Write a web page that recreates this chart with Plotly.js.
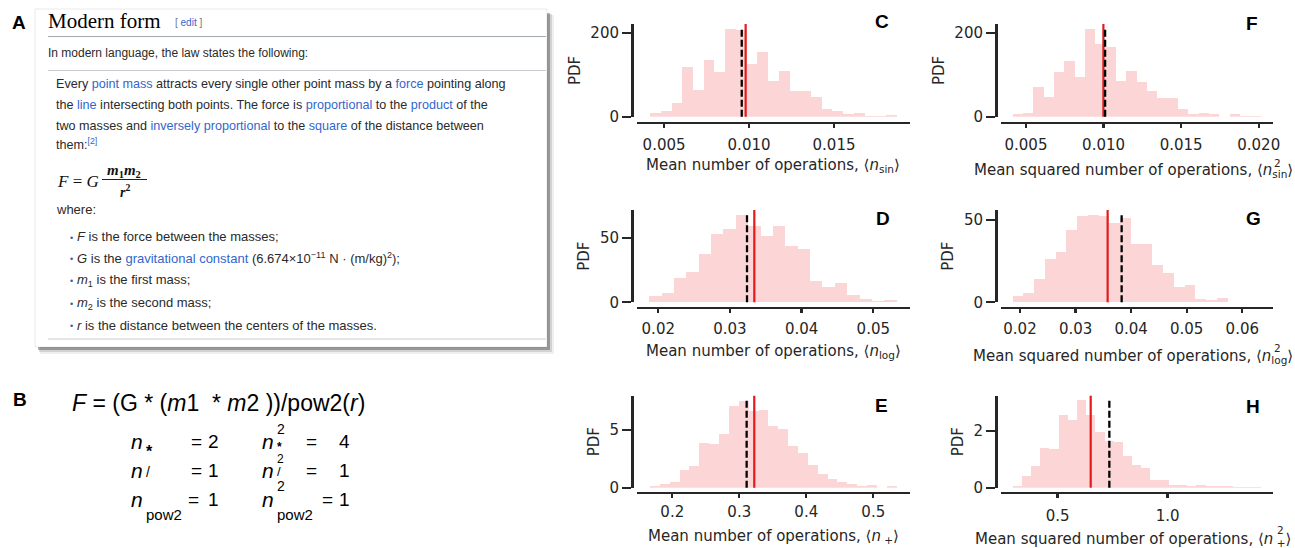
<!DOCTYPE html>
<html>
<head>
<meta charset="utf-8">
<script src="https://cdn.plot.ly/plotly-3.0.1.min.js"></script>
<style>html,body{margin:0;padding:0;background:#fff;}#chart{width:1295px;height:548px;}</style>
</head>
<body>
<div id="chart"></div>
<script>
// ---------- DATA ----------
// Panel C: mean number of sin operations
const cHeights = [9, 14, 33, 118, 64, 134, 107, 208, 206, 125, 155, 84, 108, 61, 61, 47, 19, 13, 7, 9, 2, 2, 4];
const cBinStart = 0.00418, cBinWidth = 0.000631;
const cRed = 0.0098, cBlack = 0.00957;
// Panel D: mean number of log operations
const dHeights = [5.2, 7.3, 19.3, 23.7, 37.8, 52.9, 56.8, 68.2, 59.6, 51.8, 59.9, 43.8, 41.9, 16.4, 12.0, 14.8, 5.7, 2.6, 0.8, 1.8];
const dBinStart = 0.01874, dBinWidth = 0.001726;
const dRed = 0.0334, dBlack = 0.03238;
// Panel E: mean number of + operations
const eHeights = [0.12, 0.3, 0.47, 1.57, 1.86, 3.85, 3.78, 4.71, 7.08, 7.58, 6.65, 6.8, 5.33, 5.14, 3.67, 3.06, 2.0, 1.16, 0.79, 0.5, 0.3, 0.15, 0.21, 0, 0.12];
const eBinStart = 0.1667, eBinWidth = 0.01473;
const eRed = 0.3224, eBlack = 0.311;
// Panel F: mean squared number of sin operations
const fHeights = [6.5, 9, 72, 48, 106, 132, 94, 210, 174, 165, 84, 108, 82, 61, 45, 44, 19, 7, 9, 6.5, 0, 6.5, 2.5, 1];
const fBinStart = 0.00414, fBinWidth = 0.000666;
const fRed = 0.00999, fBlack = 0.0101;
// Panel G: mean squared number of log operations
const gHeights = [4, 5.5, 14.2, 26.5, 30.6, 44.1, 52.4, 53, 52.4, 48, 51, 35.4, 35.4, 22.5, 17.6, 9.5, 10.5, 2, 1.4, 2.6, 0, 0.4, 0.4];
const gBinStart = 0.01869, gBinWidth = 0.001934;
const gRed = 0.03577, gBlack = 0.03829;
// Panel H: mean squared number of + operations
const hHeights = [0.07, 0.42, 0.77, 1.4, 1.36, 2.55, 2.39, 3.08, 2.55, 1.94, 1.65, 1.59, 1.11, 0.8, 0.7, 0.27, 0.27, 0.1, 0.1, 0.05, 0.1, 0.05, 0.05, 0.05, 0.02, 0.02, 0.02];
const hBinStart = 0.2955, hBinWidth = 0.04175;
const hRed = 0.650, hBlack = 0.7348;

// tick labels
const cTicks = ['0.005', '0.010', '0.015'];
const fTicks = ['0.005', '0.010', '0.015', '0.020'];
const dTicks = ['0.02', '0.03', '0.04', '0.05'];
const gTicks = ['0.02', '0.03', '0.04', '0.05', '0.06'];
const eTicks = ['0.2', '0.3', '0.4', '0.5'];
const hTicks = ['0.5', '1.0'];
const cYTicks = [0, 200], dYTicks = [0, 50], eYTicks = [0, 5], hYTicks = [0, 2];

const panelLetters = ['C', 'D', 'E', 'F', 'G', 'H'];

// ---------- LAYOUT HELPERS ----------
const W = 1295, H = 548;
const SANS = 'Liberation Sans, Arial, Helvetica, sans-serif';
const DJV = 'DejaVu Sans, Verdana, sans-serif';
const SERIF = 'Liberation Serif, Times New Roman, serif';
const DARK = '#262626';
const px = x => x / W;
const py = y => 1 - y / H;

const colX = [[636.7, 909.5], [1001, 1273.3]];
const colYLine = [632, 996];
const rowY = [[24, 116.7, 122.7], [210, 302.3, 307.5], [395.7, 487.7, 492.7]];
const titleX = [773, 1133];

const panels = [
  {h: cHeights, s: cBinStart, w: cBinWidth, red: cRed, black: cBlack, col: 0, row: 0, xr: [0.00339, 0.01944], yr: [0, 221], xt: cTicks, yt: cYTicks,
   title: 'Mean number of operations, ⟨<i>n</i><sub>sin</sub>⟩', ty: 165, ls: 4},
  {h: dHeights, s: dBinStart, w: dBinWidth, red: dRed, black: dBlack, col: 0, row: 1, xr: [0.01699, 0.05505], yr: [0, 72], xt: dTicks, yt: dYTicks,
   title: 'Mean number of operations, ⟨<i>n</i><sub>log</sub>⟩', ty: 351.7, ls: 3},
  {h: eHeights, s: eBinStart, w: eBinWidth, red: eRed, black: eBlack, col: 0, row: 2, xr: [0.1469, 0.5541], yr: [0, 8.0], xt: eTicks, yt: eYTicks,
   title: 'Mean number of operations, ⟨<i>n</i><sub> +</sub>⟩', ty: 536.7, ls: 1},
  {h: fHeights, s: fBinStart, w: fBinWidth, red: fRed, black: fBlack, col: 1, row: 0, xr: [0.00339, 0.02094], yr: [0, 221], xt: fTicks, yt: cYTicks,
   title: 'Mean squared number of operations, ⟨<i>n</i><sub>sin</sub>⟩', ty: 170, ls: 4, sq: [1272, 163.3]},
  {h: gHeights, s: gBinStart, w: gBinWidth, red: gRed, black: gBlack, col: 1, row: 1, xr: [0.01658, 0.06558], yr: [0, 56], xt: gTicks, yt: dYTicks,
   title: 'Mean squared number of operations, ⟨<i>n</i><sub>log</sub>⟩', ty: 356.7, ls: 3, sq: [1272, 348.3]},
  {h: hHeights, s: hBinStart, w: hBinWidth, red: hRed, black: hBlack, col: 1, row: 2, xr: [0.2423, 1.480], yr: [0, 3.23], xt: hTicks, yt: hYTicks,
   title: 'Mean squared number of operations, ⟨<i>n</i><sub> +</sub>⟩', ty: 539, ls: 5, sq: [1275, 529.7]}
];
const letterPos = [[881.5, 21.7], [882.5, 218.3], [881.7, 405.8], [1251.7, 23.3], [1253, 218.7], [1252.5, 406]];

const traces = [];
const shapes = [];
const annotations = [];
const layout = {
  width: W, height: H, margin: {l: 0, r: 0, t: 0, b: 0},
  paper_bgcolor: '#ffffff', plot_bgcolor: 'rgba(0,0,0,0)',
  showlegend: false, bargap: 0, font: {family: DJV, color: DARK}
};

panels.forEach((p, i) => {
  const k = i === 0 ? '' : String(i + 1);
  traces.push({
    type: 'bar',
    x: p.h.map((_, j) => p.s + (j + 0.5) * p.w),
    y: p.h,
    width: p.w,
    xaxis: 'x' + k, yaxis: 'y' + k,
    marker: {color: '#fcd6d6', line: {width: 0}},
    hoverinfo: 'skip'
  });
  const tv = p.xt.map(Number);
  layout['xaxis' + k] = {
    domain: [px(colX[p.col][0]), px(colX[p.col][1])],
    range: p.xr, anchor: 'free', position: py(rowY[p.row][2]),
    showline: true, linecolor: DARK, linewidth: 2.6,
    ticks: 'outside', ticklen: 4, tickwidth: 2.4, tickcolor: DARK,
    tickvals: tv, ticktext: p.xt, ticklabelstandoff: p.ls,
    tickfont: {family: DJV, size: 15, color: DARK},
    showgrid: false, zeroline: false, fixedrange: true
  };
  layout['yaxis' + k] = {
    domain: [py(rowY[p.row][1]), py(rowY[p.row][0])],
    range: p.yr, anchor: 'free', position: px(colYLine[p.col]),
    showline: true, linecolor: DARK, linewidth: 2.6,
    ticks: 'outside', ticklen: 9, tickwidth: 2.4, tickcolor: DARK,
    tickvals: p.yt, ticktext: p.yt.map(String),
    tickfont: {family: DJV, size: 15, color: DARK},
    title: {text: 'PDF', font: {family: DJV, size: 15, color: DARK}, standoff: 5},
    showgrid: false, zeroline: false, fixedrange: true
  };
  shapes.push({type: 'line', xref: 'x' + k, yref: 'y' + k + ' domain', x0: p.red, x1: p.red, y0: 0, y1: 1,
    line: {color: '#e41a1c', width: 2.2}, layer: 'above'});
  shapes.push({type: 'line', xref: 'x' + k, yref: 'y' + k + ' domain', x0: p.black, x1: p.black, y0: 0, y1: 0.95,
    line: {color: '#000000', width: 2.3, dash: '7px,3px'}, layer: 'above'});
  // x-axis title
  annotations.push({xref: 'paper', yref: 'paper', x: px(titleX[p.col]), y: py(p.ty),
    text: p.title, showarrow: false, xanchor: 'center', yanchor: 'middle',
    font: {family: DJV, size: 15, color: DARK}});
  if (p.sq) {
    annotations.push({xref: 'paper', yref: 'paper', x: px(p.sq[0]), y: py(p.sq[1]), text: '2', showarrow: false,
      xanchor: 'left', yanchor: 'middle', font: {family: DJV, size: 10.5, color: DARK}});
  }
  annotations.push({xref: 'paper', yref: 'paper', x: px(letterPos[i][0]), y: py(letterPos[i][1]),
    text: '<b>' + panelLetters[i] + '</b>', showarrow: false, xanchor: 'center', yanchor: 'middle',
    font: {family: SANS, size: 19, color: '#000'}});
});

// ---------- PANEL A: text of the reproduced web page ----------
function T(x, y, text, size, opts) {
  const o = opts || {};
  annotations.push({xref: 'paper', yref: 'paper', x: px(x), y: py(y), text: text, showarrow: false,
    xanchor: o.xanchor || 'left', yanchor: 'middle',
    font: {family: o.family || SANS, size: size, color: o.color || '#2a2a2a'}});
}
function R(x0, y0, x1, y1, fill, line) {
  shapes.push({type: 'rect', xref: 'paper', yref: 'paper', x0: px(x0), x1: px(x1), y0: py(y1), y1: py(y0),
    fillcolor: fill, line: line || {width: 0}, layer: 'below'});
}
function L(x0, y0, x1, y1, color, width) {
  shapes.push({type: 'line', xref: 'paper', yref: 'paper', x0: px(x0), x1: px(x1), y0: py(y0), y1: py(y1),
    line: {color: color, width: width}, layer: 'below'});
}
const blue = s => '<span style="color:#3366cc">' + s + '</span>';
const grey = s => '<span style="color:#72777d">' + s + '</span>';

// screenshot frame and shadow
R(40, 15, 554, 354, 'rgba(0,0,0,0.06)');
R(39, 14, 552, 352, 'rgba(0,0,0,0.12)');
R(38, 13, 550, 350, 'rgba(0,0,0,0.28)');
R(35, 9, 547, 347, '#ffffff', {color: 'rgba(0,0,0,0.08)', width: 1});

T(18.7, 22.5, '<b>A</b>', 19, {xanchor: 'center', color: '#000'});
T(46, 21, 'Modern form', 21, {family: SERIF, color: '#000'});
T(173, 23, grey('[') + ' ' + blue('edit') + ' ' + grey(']'), 10);
L(48, 36.5, 546, 36.5, '#a2a9b1', 1);
T(46, 53, 'In modern language, the law states the following:', 12);
L(48, 70.5, 546, 70.5, '#c8ccd1', 1);

const BQ = 12.6;
T(54, 84, 'Every ' + blue('point mass') + ' attracts every single other point mass by a ' + blue('force') + ' pointing along', BQ);
T(54, 105, 'the ' + blue('line') + ' intersecting both points. The force is ' + blue('proportional') + ' to the ' + blue('product') + ' of the', BQ);
T(54, 126, 'two masses and ' + blue('inversely proportional') + ' to the ' + blue('square') + ' of the distance between', BQ);
T(54, 144, 'them:<sup>' + blue('[2]') + '</sup>', BQ);

// F = G m1 m2 / r^2
T(55, 181, '<i>F</i> = <i>G</i>', 17, {family: SERIF, color: '#111'});
T(124, 171, '<b><i>m</i><sub>1</sub><i>m</i><sub>2</sub></b>', 15, {family: SERIF, color: '#111', xanchor: 'center'});
L(102, 179.5, 147, 179.5, '#222', 1);
T(125, 191, '<b><i>r</i><sup>2</sup></b>', 14, {family: SERIF, color: '#111', xanchor: 'center'});

T(54, 210, 'where:', 13);
const bulletY = [236.7, 258.3, 280, 303.3, 325];
const bulletText = [
  '<i>F</i> is the force between the masses;',
  '<i>G</i> is the ' + blue('gravitational constant') + ' (6.674×10<sup>−11</sup> N · (m/kg)<sup>2</sup>);',
  '<i>m</i><sub>1</sub> is the first mass;',
  '<i>m</i><sub>2</sub> is the second mass;',
  '<i>r</i> is the distance between the centers of the masses.'
];
bulletY.forEach((y, i) => {
  T(68, y + 1, '•', 9, {color: '#3a5a99'});
  T(75, y, bulletText[i], 13);
});
L(48, 339, 546, 339, '#c8ccd1', 1);

// ---------- PANEL B ----------
T(20, 399, '<b>B</b>', 19, {xanchor: 'center', color: '#000'});
T(70, 403, '<i>F</i> = (G * (<i>m</i>1 \u00a0* <i>m</i>2 ))/pow2(<i>r</i>)', 23, {color: '#000'});
const rowCY = [441, 470, 499];
const opSub = ['<b>*</b>', '/', 'pow2'];
const leftSubY = [451.5, 472, 514.5];
const leftSubSize = [16, 14, 15];
const rightSubY = [447, 471.5, 514.5];
const rightSubSize = [12, 13, 15];
const leftVals = ['2', '1', '1'];
const rightVals = ['4', '1', '1'];
const supY = [429, 459, 486];
const supSize = [14, 12, 14];
const eqLeftX = [189, 189, 186];
const eqRightX = [303.5, 303.5, 320];
rowCY.forEach((cy, i) => {
  T(129, cy, '<i>n</i>', 21, {color: '#000'});
  T(144, leftSubY[i], opSub[i], leftSubSize[i], {color: '#000'});
  T(eqLeftX[i], cy + 0.5, '=', 19, {color: '#000'});
  T(206, cy + 0.5, leftVals[i], 19, {color: '#000'});
  T(260, cy, '<i>n</i>', 21, {color: '#000'});
  T(275, supY[i], '2', supSize[i], {color: '#000'});
  T(275, rightSubY[i], opSub[i], rightSubSize[i], {color: '#000'});
  T(eqRightX[i], cy + 0.5, '=', 19, {color: '#000'});
  T(337, cy + 0.5, rightVals[i], 19, {color: '#000'});
});

layout.shapes = shapes;
layout.annotations = annotations;
Plotly.newPlot('chart', traces, layout, {staticPlot: true, displayModeBar: false});
</script>
</body>
</html>
